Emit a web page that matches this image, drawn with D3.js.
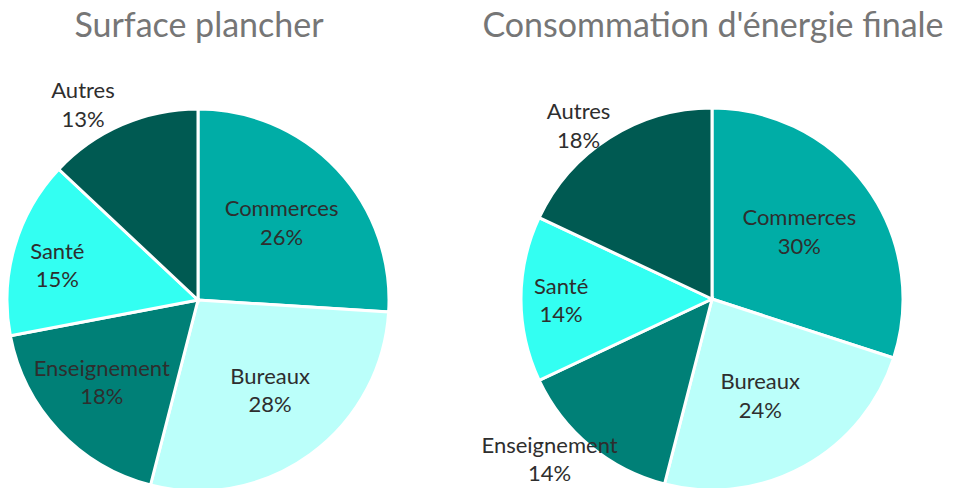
<!DOCTYPE html>
<html>
<head>
<meta charset="utf-8">
<script src="https://cdn.jsdelivr.net/npm/d3@7"></script>
<style>
  body { margin: 0; background: #fff; }
  text { font-family: Lato, "Open Sans", sans-serif; }
</style>
</head>
<body>
<div id="chart"></div>
<script>
// categories and colours
const categories = ["Commerces", "Bureaux", "Enseignement", "Santé", "Autres"];
const colors = ["#00ada6", "#bbfffa", "#008077", "#33fff2", "#005a52"];

// shares (%) for each pie
const surfaceValues = [26, 28, 18, 15, 13];
const energieValues = [30, 24, 14, 14, 18];

const titles = ["Surface plancher", "Consommation d'énergie finale"];

const width = 954, height = 488;

const svg = d3.select("#chart").append("svg")
    .attr("width", width)
    .attr("height", height);

const color = d3.scaleOrdinal().domain(categories).range(colors);
const pie = d3.pie().sort(null).value(d => d.value);
const radius = 191;
const arc = d3.arc().innerRadius(0).outerRadius(radius);

// label placement: [radius factor, angle shift in degrees] per slice
const labelPos = [
    [[0.6, 0], [0.6, -3], [0.66, 3], [0.76, -2], [1.19, -7]],
    [[0.58, -2], [0.56, 2], [1.19, 6], [0.79, 0], [1.15, -5]]
];

function drawPie(values, cx, cy, title, pos) {
    const data = categories.map((c, i) => ({ name: c, value: values[i] }));
    const g = svg.append("g").attr("transform", "translate(" + cx + "," + cy + ")");

    g.selectAll("path")
        .data(pie(data))
        .enter()
        .append("path")
        .attr("d", arc)
        .attr("fill", d => color(d.data.name))
        .attr("stroke", "#fff")
        .attr("stroke-width", 3);

    const lbl = g.selectAll("text.lbl")
        .data(pie(data))
        .enter()
        .append("text")
        .attr("class", "lbl")
        .attr("text-anchor", "middle")
        .attr("fill", "#2e2e2e")
        .style("font-size", "22px")
        .attr("transform", (d, i) => {
            const a = (d.startAngle + d.endAngle) / 2 + pos[i][1] * Math.PI / 180;
            const r = radius * pos[i][0];
            return "translate(" + (Math.sin(a) * r) + "," + (-Math.cos(a) * r) + ")";
        });
    lbl.append("tspan").attr("x", 0).attr("dy", "-0.25em").text(d => d.data.name);
    lbl.append("tspan").attr("x", 0).attr("dy", "1.3em").text(d => d.data.value + "%");

    svg.append("text")
        .attr("x", cx + 1)
        .attr("y", 37)
        .attr("text-anchor", "middle")
        .attr("fill", "#767676")
        .style("font-size", "34px")
        .text(title);
}

drawPie(surfaceValues, 198, 300, titles[0], labelPos[0]);
drawPie(energieValues, 712, 299, titles[1], labelPos[1]);
</script>
</body>
</html>
